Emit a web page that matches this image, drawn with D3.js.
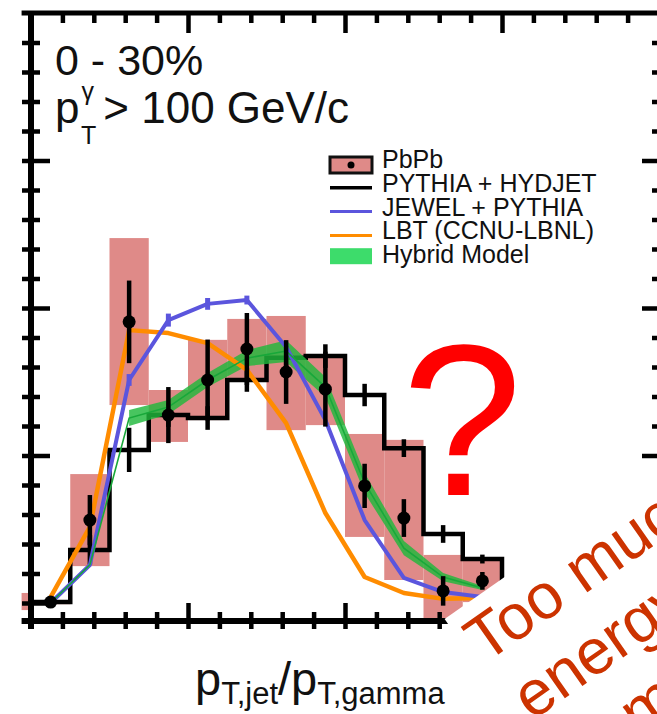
<!DOCTYPE html>
<html>
<head>
<meta charset="utf-8">
<script src="https://cdn.jsdelivr.net/npm/d3@7"></script>
<style>
  html, body { margin: 0; padding: 0; background: #fff; }
  svg { display: block; font-family: "Liberation Sans", Arial, Helvetica, sans-serif; }
</style>
</head>
<body>
<svg id="chart" width="657" height="714"></svg>
<script>
// x_Jγ bin centres (bin width 0.125)
const binCenters = [0.0625, 0.1875, 0.3125, 0.4375, 0.5625, 0.6875, 0.8125, 0.9375, 1.0625, 1.1875, 1.3125, 1.4375];
const binWidth = 0.125;

// PbPb data: value, statistical error, systematic band
const pbpbValues = [0.003, 0.281, 0.953, 0.637, 0.756, 0.861, 0.783, 0.725, 0.397, 0.288, 0.041, 0.075];
const pbpbStat   = [0.010, 0.085, 0.140, 0.095, 0.137, 0.122, 0.108, 0.127, 0.075, 0.064, 0.050, 0.030];
const pbpbSystLo = [-0.004, 0.125, 0.671, 0.546, 0.620, 0.756, 0.586, 0.603, 0.224, 0.078, -0.058, 0.003];
const pbpbSystHi = [0.010, 0.437, 1.237, 0.722, 0.892, 0.963, 0.973, 0.841, 0.573, 0.553, 0.163, 0.146];
// systematic box of the bin just below x = 0
const underflowBox = { x0: -0.03, x1: 0, lo: -0.024, hi: 0.034 };

// PYTHIA + HYDJET reference histogram (one value per bin, with stat. error)
const hydjetValues = [0.003, 0.180, 0.519, 0.637, 0.627, 0.756, 0.831, 0.837, 0.705, 0.525, 0.234, 0.149, 0.044];
const hydjetErrors = [0.005, 0.050, 0.075, 0.040, 0.040, 0.040, 0.040, 0.040, 0.038, 0.030, 0.030, 0.015, 0.010];

// JEWEL + PYTHIA
const jewelValues = [0.000, 0.129, 0.756, 0.959, 1.014, 1.027, 0.868, 0.620, 0.281, 0.085, 0.037, 0.020];
const jewelErrors = [0.000, 0.000, 0.020, 0.022, 0.020, 0.015, 0.000, 0.000, 0.000, 0.000, 0.000, 0.000];

// LBT (CCNU-LBNL)
const lbtValues = [0.020, 0.258, 0.925, 0.915, 0.881, 0.790, 0.610, 0.305, 0.088, 0.034, 0.014, 0.017];

// Hybrid model: central curve and band limits
const hybridCenter = [0.000, 0.129, 0.627, 0.664, 0.756, 0.830, 0.854, 0.732, 0.407, 0.186, 0.088, 0.051];
const hybridLo     = [null, null, 0.600, 0.640, 0.732, 0.803, 0.817, 0.698, 0.373, 0.162, 0.074, 0.044];
const hybridHi     = [null, null, 0.654, 0.688, 0.780, 0.857, 0.891, 0.766, 0.441, 0.210, 0.102, 0.058];

const legendLabels = ["PbPb", "PYTHIA + HYDJET", "JEWEL + PYTHIA", "LBT (CCNU-LBNL)", "Hybrid Model"];
const headerLines = ["0 - 30%", "> 100 GeV/c"];
const noteLines = ["Too much", "energy loss", "modeled?"];

const colors = {
  pbpbBox: "#df8a88",
  hydjet: "#000000",
  jewel: "#5b55dd",
  lbt: "#ff8c00",
  hybridBand: "#20b83c",
  hybridLine: "#18a83a",
  legendGreen: "#3ddc6b",
  question: "#ff0000",
  note: "#cc3300"
};

const svg = d3.select("#chart");
const x = d3.scaleLinear().domain([0, 2]).range([31, 659]);
const y = d3.scaleLinear().domain([0, 2]).range([603, 13]);
const yBottom = -0.061;   // lower edge of the frame
const xLeftEdge = -0.03;  // frame overhang on the left

const plot = svg.append("g");

// ---- PbPb systematic boxes
plot.append("rect")
  .attr("x", x(underflowBox.x0)).attr("width", x(underflowBox.x1) - x(underflowBox.x0))
  .attr("y", y(underflowBox.hi)).attr("height", y(underflowBox.lo) - y(underflowBox.hi))
  .attr("fill", colors.pbpbBox);
plot.selectAll("rect.syst").data(binCenters).join("rect")
  .attr("class", "syst")
  .attr("x", d => x(d - binWidth / 2))
  .attr("width", x(binWidth) - x(0))
  .attr("y", (d, i) => y(pbpbSystHi[i]))
  .attr("height", (d, i) => y(pbpbSystLo[i]) - y(pbpbSystHi[i]))
  .attr("fill", colors.pbpbBox);

// ---- PYTHIA + HYDJET step histogram
const stepPts = [];
hydjetValues.forEach((v, i) => {
  stepPts.push([i * binWidth, v]);
  stepPts.push([(i + 1) * binWidth, v]);
});
plot.append("path")
  .attr("d", d3.line().x(d => x(d[0])).y(d => y(d[1]))(stepPts))
  .attr("fill", "none").attr("stroke", colors.hydjet).attr("stroke-width", 4.5);
plot.selectAll("line.hyderr").data(hydjetValues).join("line")
  .attr("class", "hyderr")
  .attr("x1", (d, i) => x((i + 0.5) * binWidth)).attr("x2", (d, i) => x((i + 0.5) * binWidth))
  .attr("y1", (d, i) => y(d - hydjetErrors[i])).attr("y2", (d, i) => y(d + hydjetErrors[i]))
  .attr("stroke", colors.hydjet).attr("stroke-width", 4.5);

// ---- Hybrid band
const bandIdx = binCenters.map((d, i) => i).filter(i => hybridLo[i] !== null);
plot.append("path")
  .attr("d", d3.area()
    .x(i => x(binCenters[i]))
    .y0(i => y(hybridLo[i]))
    .y1(i => y(hybridHi[i]))(bandIdx))
  .attr("fill", colors.hybridBand).attr("fill-opacity", 0.82);

// ---- LBT
plot.append("path")
  .attr("d", d3.line().x((d, i) => x(binCenters[i])).y(d => y(d))(lbtValues))
  .attr("fill", "none").attr("stroke", colors.lbt).attr("stroke-width", 4.5)
  .attr("stroke-linejoin", "round");

// ---- JEWEL
plot.append("path")
  .attr("d", d3.line().x((d, i) => x(binCenters[i])).y(d => y(d))(jewelValues))
  .attr("fill", "none").attr("stroke", colors.jewel).attr("stroke-width", 4)
  .attr("stroke-linejoin", "round");
plot.selectAll("line.jewerr").data(jewelValues).join("line")
  .attr("class", "jewerr")
  .attr("x1", (d, i) => x(binCenters[i])).attr("x2", (d, i) => x(binCenters[i]))
  .attr("y1", (d, i) => y(d - jewelErrors[i]) + 0.01).attr("y2", (d, i) => y(d + jewelErrors[i]))
  .attr("stroke", colors.jewel).attr("stroke-width", 5);

// ---- Hybrid central curve
plot.append("path")
  .attr("d", d3.line().x((d, i) => x(binCenters[i])).y(d => y(d))(hybridCenter))
  .attr("fill", "none").attr("stroke", colors.hybridLine).attr("stroke-width", 1.6);

// ---- PbPb points with statistical errors
plot.selectAll("line.stat").data(pbpbValues).join("line")
  .attr("class", "stat")
  .attr("x1", (d, i) => x(binCenters[i])).attr("x2", (d, i) => x(binCenters[i]))
  .attr("y1", (d, i) => y(d - pbpbStat[i])).attr("y2", (d, i) => y(d + pbpbStat[i]))
  .attr("stroke", "#000").attr("stroke-width", 4.5);
plot.selectAll("circle.pt").data(pbpbValues).join("circle")
  .attr("class", "pt")
  .attr("cx", (d, i) => x(binCenters[i])).attr("cy", d => y(d))
  .attr("r", 6.5).attr("fill", "#000");

// ---- Frame and axes (ticks cross the axis line)
const xMinor = d3.range(0, 2.0001, 0.1).map(v => +v.toFixed(2));
const yMinor = d3.range(0, 2.0001, 0.1).map(v => +v.toFixed(2));
const isMajor = v => Math.abs(v * 2 - Math.round(v * 2)) < 1e-6;

// bottom axis
const bottomAxis = d3.axisBottom(x).tickValues(xMinor.filter(v => v > 0)).tickFormat("").tickSizeOuter(0);
const gB = svg.append("g").attr("transform", `translate(0,${y(yBottom)})`).call(bottomAxis);
gB.select(".domain").remove();
gB.selectAll(".tick line")
  .attr("y1", 8).attr("y2", d => isMajor(d) ? -18 : -9)
  .attr("stroke", "#000").attr("stroke-width", 4.5);
svg.append("line")
  .attr("x1", x(xLeftEdge)).attr("x2", 657)
  .attr("y1", y(yBottom)).attr("y2", y(yBottom))
  .attr("stroke", "#000").attr("stroke-width", 6);

// top axis
const topAxis = d3.axisTop(x).tickValues(xMinor.filter(v => v > 0)).tickFormat("").tickSizeOuter(0);
const gT = svg.append("g").attr("transform", `translate(0,${y(2)})`).call(topAxis);
gT.select(".domain").remove();
gT.selectAll(".tick line")
  .attr("y1", 0).attr("y2", d => isMajor(d) ? 20 : 10)
  .attr("stroke", "#000").attr("stroke-width", 4.5);
svg.append("line")
  .attr("x1", x(xLeftEdge)).attr("x2", 657)
  .attr("y1", y(2)).attr("y2", y(2))
  .attr("stroke", "#000").attr("stroke-width", 5);

// left axis
const leftAxis = d3.axisLeft(y).tickValues(yMinor.filter(v => v < 2)).tickFormat("").tickSizeOuter(0);
const gL = svg.append("g").attr("transform", `translate(${x(0)},0)`).call(leftAxis);
gL.select(".domain").remove();
gL.selectAll(".tick line")
  .attr("x1", -9).attr("x2", d => isMajor(d) ? 19 : 9)
  .attr("stroke", "#000").attr("stroke-width", 4.5);
svg.append("line")
  .attr("x1", x(0)).attr("x2", x(0))
  .attr("y1", y(2) - 2).attr("y2", y(yBottom) + 8)
  .attr("stroke", "#000").attr("stroke-width", 6);

// right axis (only the inward ticks are inside the page)
const rightAxis = d3.axisRight(y).tickValues(yMinor.filter(v => v > 0 && v < 2)).tickFormat("").tickSizeOuter(0);
const gR = svg.append("g").attr("transform", `translate(${x(2)},0)`).call(rightAxis);
gR.select(".domain").remove();
gR.selectAll(".tick line")
  .attr("x1", 0).attr("x2", d => isMajor(d) ? -17 : -7)
  .attr("stroke", "#000").attr("stroke-width", 4.5);

// ---- Header text
const header = svg.append("g").attr("fill", "#111");
header.append("text").attr("x", 55).attr("y", 75).attr("font-size", 43).text(headerLines[0]);
const l2 = header.append("text").attr("x", 55).attr("y", 123).attr("font-size", 44);
l2.append("tspan").text("p");
l2.append("tspan").attr("font-size", 25).attr("dx", 2).attr("dy", -23).text("γ");
l2.append("tspan").attr("font-size", 25).attr("dx", -13).attr("dy", 44).text("T");
l2.append("tspan").attr("dx", 7).attr("dy", -21).text(headerLines[1]);

// ---- Legend
const legend = svg.append("g");
const legX0 = 330, legX1 = 372, legTextX = 382, legY0 = 168, legStep = 23.8;
const legRow = i => legY0 + i * legStep;
legend.selectAll("text").data(legendLabels).join("text")
  .attr("x", legTextX).attr("y", (d, i) => legRow(i))
  .attr("font-size", 25).attr("fill", "#111").text(d => d);
legend.append("rect")
  .attr("x", legX0).attr("y", legRow(0) - 11).attr("width", legX1 - legX0).attr("height", 16)
  .attr("fill", colors.pbpbBox).attr("stroke", "#111").attr("stroke-width", 3);
legend.append("circle").attr("cx", (legX0 + legX1) / 2).attr("cy", legRow(0) - 3).attr("r", 3.5).attr("fill", "#000");
[[colors.hydjet, 1], [colors.jewel, 2], [colors.lbt, 3]].forEach(([c, i]) => {
  legend.append("line")
    .attr("x1", legX0).attr("x2", legX1)
    .attr("y1", legRow(i) - 4).attr("y2", legRow(i) - 4)
    .attr("stroke", c).attr("stroke-width", c === colors.hydjet ? 3.5 : 3);
});
legend.append("rect")
  .attr("x", legX0).attr("y", legRow(4) - 15).attr("width", legX1 - legX0).attr("height", 16)
  .attr("fill", colors.legendGreen);

// ---- x-axis title
const xt = svg.append("text").attr("x", 195).attr("y", 695).attr("font-size", 47).attr("fill", "#111");
xt.append("tspan").text("p");
xt.append("tspan").attr("font-size", 31).attr("dy", 9).text("T,jet");
xt.append("tspan").attr("dy", -9).text("/p");
xt.append("tspan").attr("font-size", 31).attr("dy", 9).text("T,gamma");

// ---- Question mark
svg.append("text").attr("x", 462).attr("y", 495).attr("text-anchor", "middle")
  .attr("font-size", 216).attr("fill", colors.question).text("?");

// ---- Rotated note on a white panel
const note = svg.append("g").attr("transform", "translate(470,650) rotate(-35)");
note.append("rect").attr("x", -3).attr("y", -40).attr("width", 600).attr("height", 400).attr("fill", "#fff");
note.selectAll("text").data(noteLines).join("text")
  .attr("x", (d, i) => [4, 10, 88][i]).attr("y", (d, i) => i * 74 + 20)
  .attr("font-size", 64).attr("fill", colors.note).text(d => d);
</script>
</body>
</html>
